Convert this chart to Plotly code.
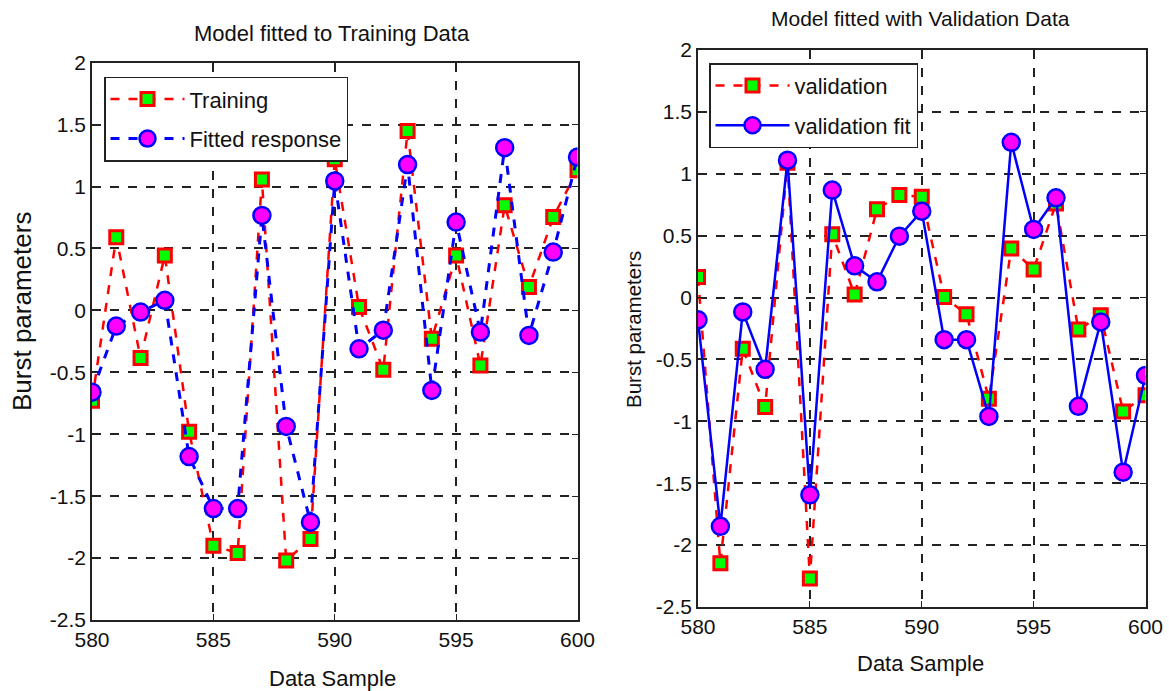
import plotly.graph_objects as go

W, H = 1169, 691

# Sample indices shared by both panels
samples = list(range(580, 601))

# Training panel
training = [-0.73, 0.59, -0.385, 0.444, -0.98, -1.90, -1.96, 1.056, -2.02, -1.845,
            1.22, 0.027, -0.48, 1.448, -0.23, 0.444, -0.444, 0.848, 0.188, 0.754, 1.131]
fitted = [-0.66, -0.127, -0.014, 0.081, -1.18, -1.60, -1.60, 0.767, -0.937, -1.71,
          1.045, -0.31, -0.16, 1.177, -0.646, 0.713, -0.175, 1.314, -0.202, 0.471, 1.238]

# Validation panel
validation = [0.167, -2.147, -0.413, -0.885, 1.09, -2.27, 0.512, 0.024, 0.714, 0.828,
              0.814, 0.005, -0.135, -0.817, 0.396, 0.226, 0.76, -0.259, -0.143, -0.92, -0.79]
validation_fit = [-0.18, -1.848, -0.116, -0.58, 1.11, -1.594, 0.868, 0.256, 0.127, 0.496,
                  0.698, -0.34, -0.34, -0.96, 1.254, 0.55, 0.806, -0.879, -0.197, -1.411, -0.629]

x_ticks = [580, 585, 590, 595, 600]
y_ticks = [-2.5, -2, -1.5, -1, -0.5, 0, 0.5, 1, 1.5, 2]
y_tick_text = ["-2.5", "-2", "-1.5", "-1", "-0.5", "0", "0.5", "1", "1.5", "2"]

FONT = "Liberation Sans, Arial, sans-serif"
INK = "#111111"

square_marker = dict(symbol="square", size=13, color="#00ff00",
                     line=dict(color="#ff0000", width=3))
circle_marker = dict(symbol="circle", size=17, color="#ff00ff",
                     line=dict(color="#0000ff", width=2.5))

fig = go.Figure()

fig.add_trace(go.Scatter(x=samples, y=training, name="Training", mode="lines+markers",
                         line=dict(color="#ff0000", width=2.5, dash="dash"),
                         marker=square_marker, xaxis="x", yaxis="y",
                         legend="legend", legendgroup="a"))
fig.add_trace(go.Scatter(x=samples, y=fitted, name="Fitted response", mode="lines+markers",
                         line=dict(color="#0000ff", width=3, dash="dash"),
                         marker=circle_marker, xaxis="x", yaxis="y",
                         legend="legend", legendgroup="b"))

fig.add_trace(go.Scatter(x=samples, y=validation, name="validation", mode="lines+markers",
                         line=dict(color="#ff0000", width=2.5, dash="dash"),
                         marker=square_marker, xaxis="x2", yaxis="y2",
                         legend="legend2", legendgroup="c"))
fig.add_trace(go.Scatter(x=samples, y=validation_fit, name="validation fit", mode="lines+markers",
                         line=dict(color="#0000ff", width=2.5),
                         marker=circle_marker, xaxis="x2", yaxis="y2",
                         legend="legend2", legendgroup="d"))

axis_common = dict(showline=True, linecolor="#222222", linewidth=1.5, mirror="ticks",
                   ticks="inside", ticklen=6, tickcolor="#222222", automargin=False,
                   showgrid=True, gridcolor="#222222", gridwidth=1.5, griddash="dash",
                   zeroline=False, tickfont=dict(family=FONT, size=21, color=INK))

xa = dict(axis_common, range=[580, 600], tickvals=x_ticks, ticktext=[str(t) for t in x_ticks])
ya = dict(axis_common, range=[-2.5, 2], tickvals=y_ticks, ticktext=y_tick_text)

legend_common = dict(xanchor="left", yanchor="top", bgcolor="white",
                     bordercolor="#222222", borderwidth=1.5, itemwidth=74,
                     font=dict(family=FONT, size=22, color=INK), tracegroupgap=8)


def label(text, x, y, size, angle=0):
    return dict(text=text, x=x / W, y=1 - y / H, xref="paper", yref="paper",
                xanchor="center", yanchor="middle", showarrow=False, textangle=angle,
                font=dict(family=FONT, size=size, color=INK))


fig.update_layout(
    width=W, height=H, margin=dict(l=0, r=0, t=0, b=0),
    paper_bgcolor="white", plot_bgcolor="white", showlegend=True,
    xaxis=dict(xa, domain=[92 / W, 577.5 / W], anchor="y"),
    yaxis=dict(ya, domain=[1 - 620 / H, 1 - 62.7 / H], anchor="x"),
    xaxis2=dict(xa, domain=[698 / W, 1145.5 / W], anchor="y2"),
    yaxis2=dict(ya, domain=[1 - 607 / H, 1 - 50 / H], anchor="x2"),
    legend=dict(legend_common, x=104 / W, y=1 - 76.7 / H),
    legend2=dict(legend_common, x=709 / W, y=1 - 63.3 / H),
    annotations=[
        label("Model fitted to Training Data", 332, 33, 22),
        label("Model fitted with Validation Data", 920, 18, 21),
        label("Data Sample", 332, 678, 22),
        label("Data Sample", 920, 663, 22),
        label("Burst parameters", 22, 312, 26, -90),
        label("Burst parameters", 633, 330, 20.5, -90),
    ],
)

fig.write_html("out.html")
